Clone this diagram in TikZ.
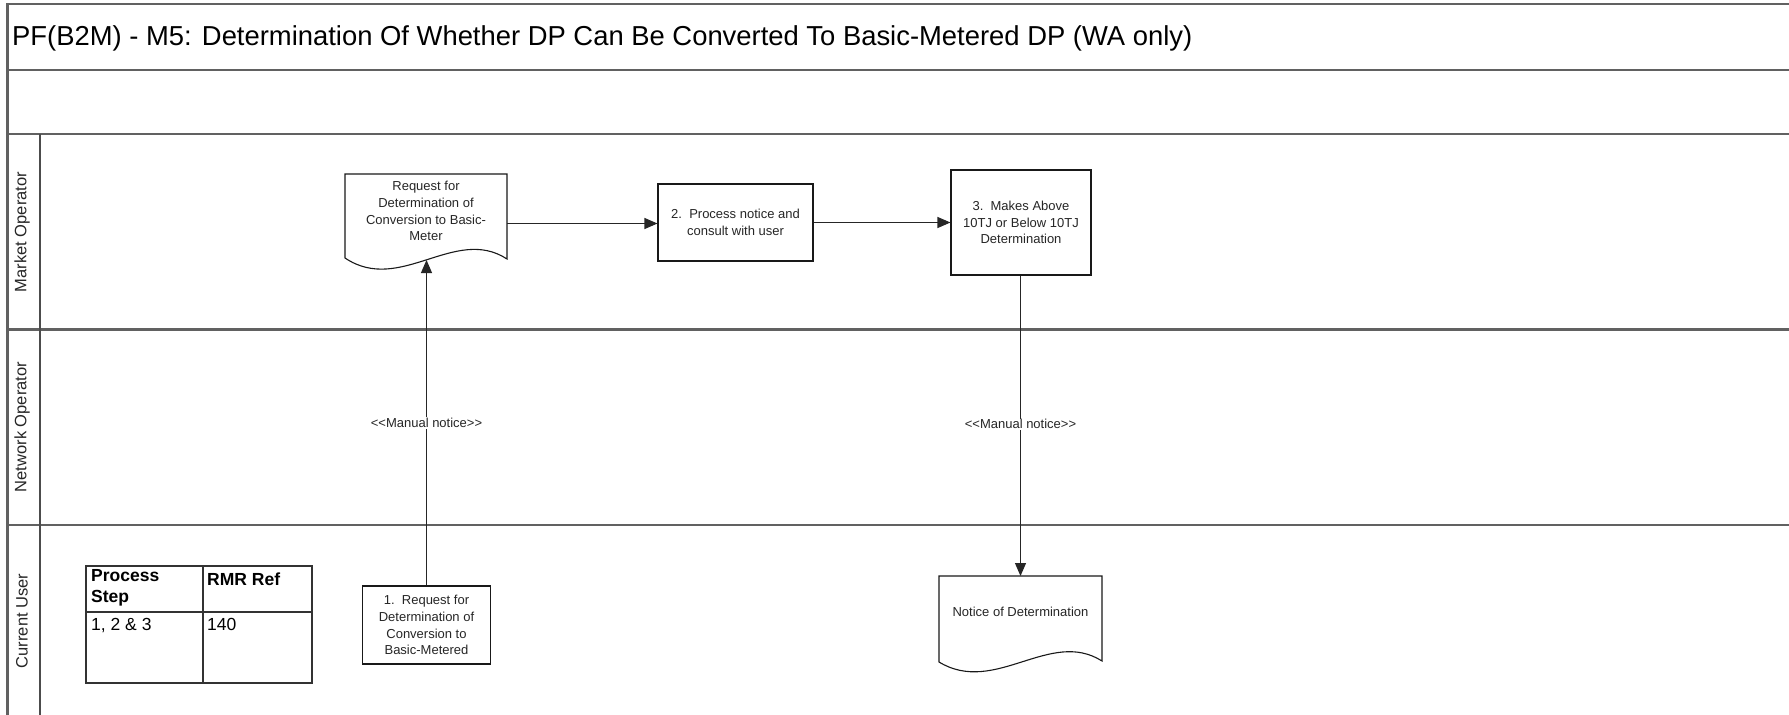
\documentclass[tikz,border=0pt]{standalone}
\usepackage{fontspec}
\setmainfont{Liberation Sans}
\usetikzlibrary{arrows.meta}
\begin{document}
\begin{tikzpicture}[x=1pt,y=-1pt,
  frame/.style={draw=black!62, line width=2.2pt},
  thin frame/.style={draw=black!70, line width=1.3pt},
  shapebox/.style={draw=black!90, line width=1.1pt, fill=white},
  boxtext/.style={font=\fontsize{13}{16.8}\selectfont, align=center, text=black!85, inner sep=2pt},
  flow/.style={draw=black!85, line width=1.1pt, -{Triangle[length=13pt,width=11pt]}},
  lbl/.style={fill=white, font=\fontsize{13}{15}\selectfont, text=black!85, inner sep=1pt},
  lanelabel/.style={rotate=90, font=\fontsize{16.5}{18}\selectfont, text=black!85},
  tabhead/.style={font=\fontsize{17.5}{21.5}\selectfont\bfseries, align=left, anchor=north west, inner sep=0pt},
  tabcell/.style={font=\fontsize{17.5}{21}\selectfont, anchor=north west, inner sep=0pt}
]
\useasboundingbox (0,0) rectangle (1789,715);
% frame and lanes
\draw[frame] (1789,4) -- (7.5,4) -- (7.5,715);
\draw[frame] (7.5,70) -- (1789,70);
\draw[frame] (7.5,134) -- (1789,134);
\draw[frame] (7.5,329.5) -- (1789,329.5);
\draw[frame] (7.5,525) -- (1789,525);
\draw[thin frame] (40,134) -- (40,715);
% title
\node[anchor=base west, inner sep=0pt, font=\fontsize{27.4}{30}\selectfont] (title) at (12,45) {PF(B2M) - M5: Determination Of Whether DP Can Be Converted To Basic-Metered DP (WA only)};
% lane labels
\node[lanelabel] (lane1) at (22,232) {Market Operator};
\node[lanelabel] (lane2) at (22,427) {Network Operator};
\node[lanelabel] (lane3) at (22,621) {Current User};
% document 1
\draw[shapebox] (345,258) -- (345,174) -- (507,174) -- (507,259)
  .. controls (455,225) and (400,295) .. cycle;
\node[boxtext] (d1) at (426,211) {Request for\\Determination of\\Conversion to Basic-\\Meter};
\coordinate (d1w) at (426.5,260);
% box 2
\node[shapebox, boxtext, minimum width=155, minimum height=77] (b2) at (735.5,222.5) {2.\ \ Process notice and\\consult with user};
% box 3
\node[shapebox, boxtext, minimum width=140, minimum height=105] (b3) at (1021,222.5) {3.\ \ Makes Above\\10TJ or Below 10TJ\\Determination};
% box 1
\node[shapebox, boxtext, minimum width=128, minimum height=78] (b1) at (426.5,625) {1.\ \ Request for\\Determination of\\Conversion to\\Basic-Metered};
% document 2
\draw[shapebox] (939,662) -- (939,576) -- (1102,576) -- (1102,661)
  .. controls (1050,628) and (995,696) .. cycle;
\node[boxtext] (d2) at (1020.5,612) {Notice of Determination};
\coordinate (d2n) at (1020.5,576);
\coordinate (d1e) at (507,223.5);
% connectors
\draw[flow] (d1e) -- (d1e -| b2.west);
\draw[flow] (b2.east) -- (b3.west);
\draw[flow] (b1.north) -- node[lbl, pos=0.5] {{<}{<}Manual notice{>}{>}} (d1w);
\draw[flow] (b3.south -| d2n) -- node[lbl, pos=0.495] {{<}{<}Manual notice{>}{>}} (d2n);
% table
\draw[thin frame, draw=black!80] (86,566) rectangle (312,683);
\draw[thin frame, draw=black!80] (203,566) -- (203,683);
\draw[thin frame, draw=black!80] (86,612) -- (312,612);
\node[tabhead] (th1) at (91,569) {Process\\Step};
\node[tabhead] (th2) at (207,573) {RMR Ref};
\node[tabcell] (tc1) at (91,618) {1, 2 \& 3};
\node[tabcell] (tc2) at (207,618) {140};
\end{tikzpicture}
\end{document}
